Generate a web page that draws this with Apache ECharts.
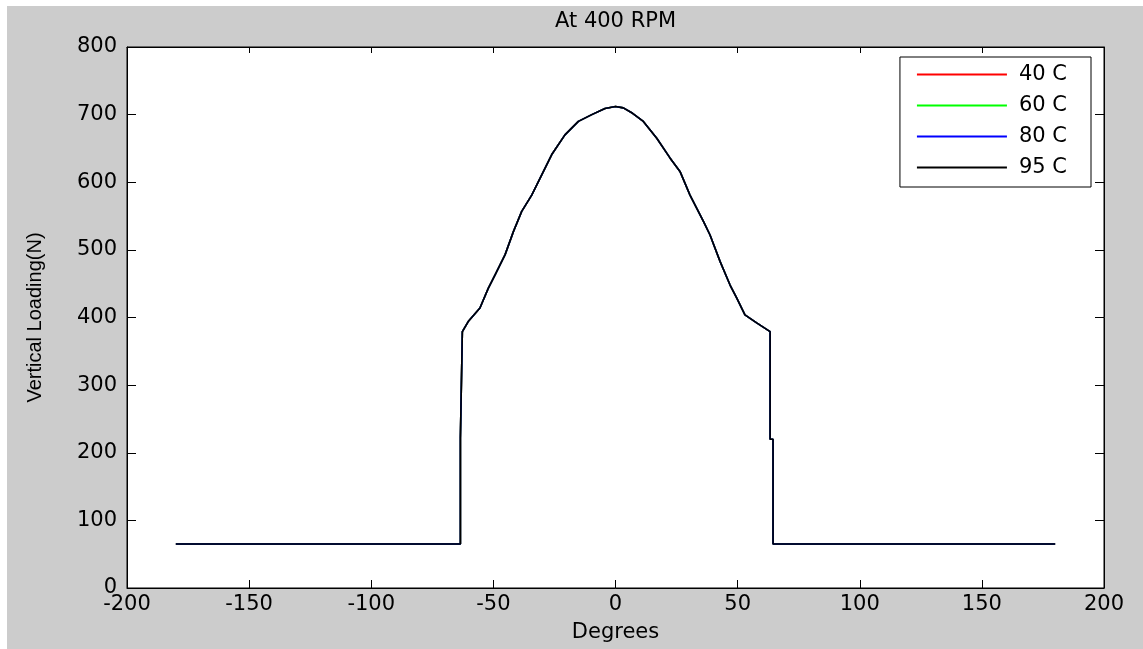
<!DOCTYPE html>
<html>
<head>
<meta charset="utf-8">
<script src="https://cdn.jsdelivr.net/npm/echarts@6/dist/echarts.min.js"></script>
<style>
  html, body { margin: 0; padding: 0; background: #fff; }
  #bg { position: absolute; left: 7px; top: 6px; width: 1136px; height: 643px; background: #cccccc; }
  #chart { position: absolute; left: 0; top: 0; width: 1143px; height: 649px; }
</style>
</head>
<body>
<div id="bg"></div>
<div id="chart"></div>
<script>
// 曲轴角度 (Degrees)
const degrees = [
  -180, -63.5, -63.5, -62.7, -62.7, -60.3, -55.5, -52.1, -49.3, -45.2,
  -41.8, -38.4, -34.3, -30.2, -26.1, -20.7, -15.2, -9.7, -4.3, 0,
  3.2, 7, 11.4, 16.9, 22.3, 26.4, 30.5, 36, 38.7, 42.8,
  46.9, 49.6, 53, 57.8, 63.3, 63.3, 64.5, 64.5, 180
]
// 竖直载荷 (N)
const loading = [
  65, 65, 222, 222, 379, 394, 414, 443, 463, 493,
  527, 557, 581, 611, 641, 670, 690, 700, 709, 712,
  710, 702, 690, 665, 636, 616, 581, 542, 522, 483,
  448, 429, 404, 392, 379, 220, 220, 65, 65
]
// 四条温度曲线，图中完全重合，只看得到最上面的黑线
const seriesNames = ['40 C', '60 C', '80 C', '95 C']
const seriesColors = ['#ff0000', '#00ff00', '#0000ff', '#000000']
const xTicks = { min: -200, max: 200, interval: 50 }
const yTicks = { min: 0, max: 800, interval: 100 }

const points = degrees.map((d, i) => [d, loading[i]])

const font = 'DejaVu Sans'
const txt = '#000'
const fs = 21

const option = {
  animation: false,
  backgroundColor: 'transparent',
  grid: {
    left: 127,
    right: 39,
    top: 47,
    bottom: 61,
    show: true,
    backgroundColor: '#fff',
    borderColor: '#000',
    borderWidth: 1,
  },
  legend: {
    orient: 'vertical',
    right: 52,
    top: 57,
    data: seriesNames,
    icon: 'path://M0,0L90,0L90,2L0,2Z',
    itemWidth: 90,
    itemHeight: 2,
    itemGap: 10,
    padding: [7, 24, 9, 17],
    backgroundColor: '#fff',
    borderColor: '#000',
    borderWidth: 1,
    borderRadius: 0,
    textStyle: { fontFamily: font, fontSize: fs, color: txt, lineHeight: 20, padding: [0, 0, 0, 7] },
  },
  xAxis: [
    {
      type: 'value',
      position: 'bottom',
      min: xTicks.min,
      max: xTicks.max,
      interval: xTicks.interval,
      name: 'Degrees',
      nameLocation: 'middle',
      nameGap: 34,
      nameTextStyle: { fontFamily: font, fontSize: fs, color: txt },
      axisLine: { onZero: false, lineStyle: { color: '#000', width: 1 } },
      axisTick: { inside: true, length: 8, lineStyle: { color: '#000' } },
      axisLabel: { margin: 6, fontFamily: font, fontSize: fs, color: txt },
      splitLine: { show: false },
    },
    {
      // 顶部坐标轴，只画刻度，名字当标题用
      type: 'value',
      position: 'top',
      min: xTicks.min,
      max: xTicks.max,
      interval: xTicks.interval,
      name: 'At 400 RPM',
      nameLocation: 'middle',
      nameGap: 15,
      nameTextStyle: { fontFamily: font, fontSize: fs, color: txt },
      axisLine: { onZero: false, lineStyle: { color: '#000', width: 1 } },
      axisTick: { inside: true, length: 6, lineStyle: { color: '#000' } },
      axisLabel: { show: false },
      splitLine: { show: false },
    },
  ],
  yAxis: [
    {
      type: 'value',
      position: 'left',
      min: yTicks.min,
      max: yTicks.max,
      interval: yTicks.interval,
      name: 'Vertical Loading(N)',
      nameLocation: 'middle',
      nameGap: 82,
      nameTextStyle: { fontFamily: 'Liberation Sans', fontSize: 20, color: txt },
      axisLine: { show: true, onZero: false, lineStyle: { color: '#000', width: 1 } },
      axisTick: { show: true, inside: true, length: 9, lineStyle: { color: '#000' } },
      axisLabel: { margin: 10, fontFamily: font, fontSize: fs, color: txt },
      splitLine: { show: false },
    },
    {
      // 右侧坐标轴，只画刻度
      type: 'value',
      position: 'right',
      min: yTicks.min,
      max: yTicks.max,
      interval: yTicks.interval,
      axisLine: { show: true, onZero: false, lineStyle: { color: '#000', width: 1 } },
      axisTick: { show: true, inside: true, length: 9, lineStyle: { color: '#000' } },
      axisLabel: { show: false },
      splitLine: { show: false },
    },
  ],
  series: seriesNames.map((name, i) => ({
    name: name,
    type: 'line',
    xAxisIndex: 0,
    yAxisIndex: 0,
    symbol: 'none',
    smooth: false,
    color: seriesColors[i],
    lineStyle: { color: seriesColors[i], width: 1.6 },
    data: points,
    z: 2 + i,
  })),
}

echarts.init(document.querySelector('#chart')).setOption(option)
</script>
</body>
</html>
